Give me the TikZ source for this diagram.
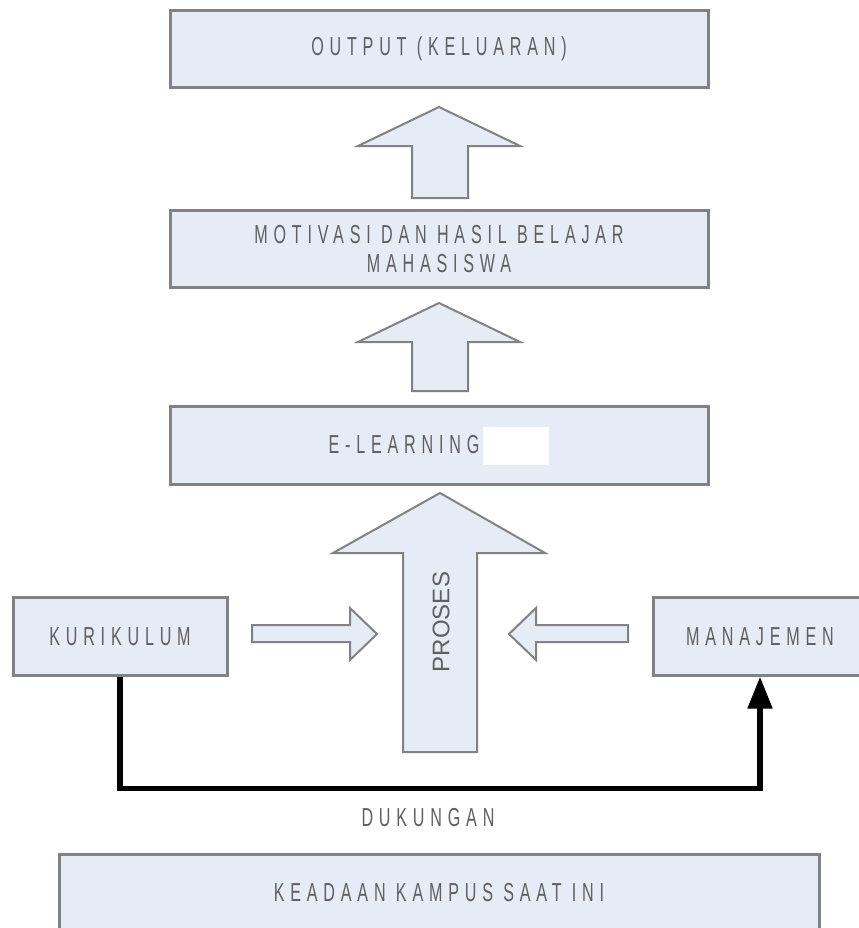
\documentclass[tikz,border=0pt]{standalone}
\usepackage{fontspec}
\setmainfont{Liberation Sans}
\usepackage{graphicx}
\usetikzlibrary{arrows.meta}

\definecolor{boxfill}{RGB}{230,236,246}
\definecolor{boxline}{RGB}{130,130,130}
\definecolor{boxtext}{RGB}{95,95,95}

% narrow, widely spaced capitals
\newcommand{\caps}[1]{\scalebox{0.62}[1]{\addfontfeature{LetterSpace=36}#1}}

\begin{document}
\begin{tikzpicture}[x=0.75pt, y=-0.75pt,
    box/.style={draw=boxline, line width=2.25pt, fill=boxfill, text=boxtext, inner sep=0pt,
        minimum height=58pt, align=center, font=\fontsize{19.5}{21.75}\selectfont},
    wide/.style={box, minimum width=403.5pt},
    side/.style={box, minimum width=160.5pt},
    blockarrow/.style={draw=boxline, line width=1.5pt, fill=boxfill, line join=miter},
    support/.style={line width=4pt, -{Triangle[length=24pt, width=18pt]}}]
    \useasboundingbox (0,0) rectangle (858,928);

    \node[wide] (output) at (439,49) {\caps{OUTPUT (KELUARAN)}};
    \node[wide] (motivasi) at (439,249) {\caps{MOTIVASI DAN HASIL BELAJAR}\\\caps{MAHASISWA}};
    \node[wide] (elearning) at (439,445.5) {\caps{E-LEARNING}\hspace{3pt}\textcolor{white}{\rule[-8.25pt]{49.5pt}{28.5pt}}};
    \node[side] (kurikulum) at (120,636.5) {\caps{KURIKULUM}};
    \node[side] (manajemen) at (760,636.5) {\caps{MANAJEMEN}};
    \node[box, minimum width=570pt] (keadaan) at (439,893) {\caps{KEADAAN KAMPUS SAAT INI}};

    % block arrows
    \draw[blockarrow] (412,198) -- (412,146) -- (358,146) -- (439,107) -- (520,146) -- (468,146) -- (468,198) -- cycle;
    \draw[blockarrow] (412,391) -- (412,342) -- (358,342) -- (439,303) -- (520,342) -- (468,342) -- (468,391) -- cycle;
    \draw[blockarrow] (403,752) -- (403,553) -- (333,553) -- (440,493) -- (545,553) -- (477,553) -- (477,752) -- cycle;
    \draw[blockarrow] (252,625) -- (350,625) -- (350,608) -- (377,634) -- (350,660) -- (350,642) -- (252,642) -- cycle;
    \draw[blockarrow] (628,625) -- (536,625) -- (536,608) -- (509,634) -- (536,660) -- (536,642) -- (628,642) -- cycle;
    \node[rotate=90, text=boxtext, font=\fontsize{18}{18}\selectfont] (proses) at (441,622) {PROSES};

    \draw[support] (kurikulum.south) -- ++(0,112) -| (manajemen.south);
    \node[text=boxtext, font=\fontsize{19.5}{21.75}\selectfont] (dukungan) at (428,818) {\caps{DUKUNGAN}};
\end{tikzpicture}
\end{document}
